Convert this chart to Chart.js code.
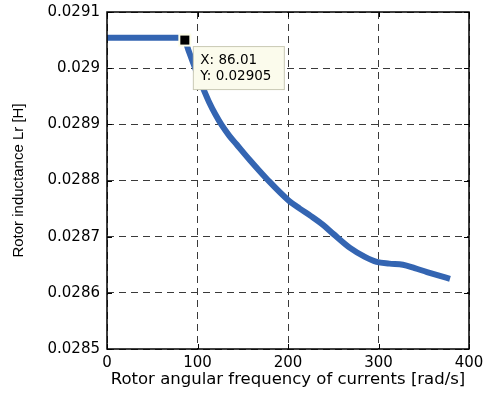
<!DOCTYPE html>
<html>
<head>
<meta charset="utf-8">
<script src="https://cdn.jsdelivr.net/npm/chart.js@4.4.1/dist/chart.umd.min.js"></script>
<style>
  html, body { margin: 0; padding: 0; background: #fff; }
</style>
</head>
<body>
<canvas id="grafico" width="490" height="396"></canvas>
<script>
// Lr frente a la frecuencia angular del rotor
const frecuencia = [0, 20, 40, 60, 80, 86.01, 90, 95, 100, 106, 113, 120, 127, 135, 143.3, 158,
  178.2, 200.3, 213, 225, 238.7, 250, 268.5, 285, 298, 312, 327, 340, 353.6, 366, 379];
const inductancia = [0.029054, 0.029054, 0.029054, 0.029054, 0.029054, 0.02905, 0.029032,
  0.02901, 0.028989, 0.028965, 0.028939, 0.028917, 0.028898, 0.02888, 0.028864, 0.028836,
  0.0288, 0.028765, 0.02875, 0.028737, 0.028721, 0.028705, 0.02868, 0.028664, 0.028655,
  0.028652, 0.02865, 0.028644, 0.028637, 0.028631, 0.028625];

const ticksX = [0, 100, 200, 300, 400];
const ticksY = [0.0285, 0.0286, 0.0287, 0.0288, 0.0289, 0.029, 0.0291];

// punto marcado (data tip)
const puntoX = 86.01;
const puntoY = 0.02905;

const puntos = frecuencia.map((f, i) => ({ x: f, y: inductancia[i] }));

// marco, marcas hacia dentro y el data tip
const marcoPlugin = {
  id: "marco",
  afterDraw(chart) {
    const { ctx, chartArea: a, scales } = chart;
    ctx.save();
    ctx.strokeStyle = "#000";
    ctx.lineWidth = 1;
    ctx.setLineDash([]);
    ctx.beginPath();
    ticksX.forEach((v) => {
      const px = Math.round(scales.x.getPixelForValue(v)) + 0.5;
      ctx.moveTo(px, a.bottom); ctx.lineTo(px, a.bottom - 5);
      ctx.moveTo(px, a.top); ctx.lineTo(px, a.top + 5);
    });
    ticksY.forEach((v) => {
      const py = Math.round(scales.y.getPixelForValue(v)) + 0.5;
      ctx.moveTo(a.left, py); ctx.lineTo(a.left + 5, py);
      ctx.moveTo(a.right, py); ctx.lineTo(a.right - 5, py);
    });
    ctx.stroke();
    ctx.lineWidth = 1.5;
    ctx.strokeRect(a.left, a.top, a.right - a.left, a.bottom - a.top);

    // data tip
    const px = scales.x.getPixelForValue(puntoX);
    const py = scales.y.getPixelForValue(puntoY);
    ctx.fillStyle = "#fdfde8";
    ctx.fillRect(px - 6.5, py - 6.5, 13, 13);
    ctx.fillStyle = "#000";
    ctx.fillRect(px - 4.5, py - 4.5, 9, 9);

    const bx = px + 8.5, by = py + 6.5, bw = 91, bh = 43;
    ctx.fillStyle = "#fbfbec";
    ctx.fillRect(bx, by, bw, bh);
    ctx.strokeStyle = "#c9c9b4";
    ctx.lineWidth = 1;
    ctx.strokeRect(bx, by, bw, bh);
    ctx.fillStyle = "#000";
    ctx.font = "13.5px 'DejaVu Sans'";
    ctx.textBaseline = "middle";
    ctx.textAlign = "left";
    ctx.fillText("X: " + puntoX.toFixed(2), bx + 7, by + 14);
    ctx.fillText("Y: " + puntoY, bx + 7, by + 30);
    ctx.restore();
  },
};

Chart.defaults.font.family = "'DejaVu Sans'";
Chart.defaults.color = "#000";

const ctx = document.getElementById("grafico");
const chart = new Chart(ctx, {
  type: "scatter",
  data: {
    datasets: [
      {
        label: "Lr",
        data: puntos,
        showLine: true,
        borderColor: "rgb(52, 101, 178)",
        backgroundColor: "rgb(52, 101, 178)",
        borderWidth: 6,
        pointRadius: 0,
        cubicInterpolationMode: "monotone",
        borderJoinStyle: "round",
        borderCapStyle: "butt",
      },
    ],
  },
  options: {
    responsive: false,
    animation: false,
    events: [],
    layout: { padding: { top: 12, right: 21, bottom: 0, left: 0 } },
    plugins: { legend: { display: false }, tooltip: { enabled: false } },
    scales: {
      x: {
        type: "linear",
        min: 0,
        max: 400,
        afterBuildTicks: (scale) => { scale.ticks = ticksX.map((v) => ({ value: v })); },
        afterFit: (scale) => { scale.height = 47; },
        grid: { color: "#3a3a3a", lineWidth: 1, drawTicks: false },
        border: { display: false, dash: [7, 5] },
        ticks: { padding: 5, font: { size: 15 }, maxRotation: 0 },
        title: {
          display: true,
          text: "Rotor angular frequency of currents [rad/s]",
          font: { size: 16.5 },
          padding: { top: 0, bottom: 6 },
        },
      },
      y: {
        type: "linear",
        min: 0.0285,
        max: 0.0291,
        afterBuildTicks: (scale) => { scale.ticks = ticksY.map((v) => ({ value: v })); },
        afterFit: (scale) => { scale.width = 107; },
        grid: {
          color: "#3a3a3a",
          lineWidth: 1,
          drawTicks: true,
          tickLength: 4,
          tickColor: "rgba(0,0,0,0)",
        },
        border: { display: false, dash: [7, 5] },
        ticks: {
          padding: 3,
          font: { size: 15 },
          callback: (v) => String(parseFloat(v.toFixed(4))),
        },
        title: {
          display: true,
          text: "Rotor inductance Lr [H]",
          font: { family: "'Liberation Sans'", size: 15 },
          padding: { top: 10, bottom: 0 },
        },
      },
    },
  },
  plugins: [marcoPlugin],
});
</script>
</body>
</html>
